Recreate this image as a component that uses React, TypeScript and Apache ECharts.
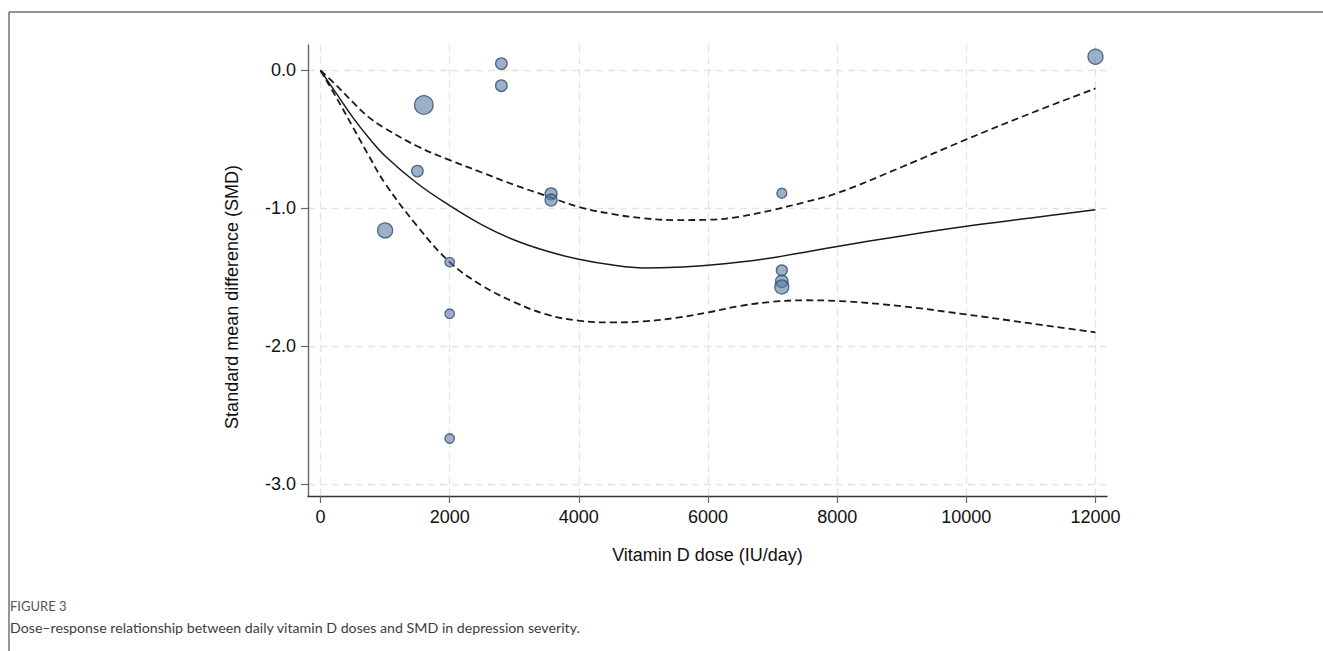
import React, { useEffect, useRef } from "react";
import * as echarts from "echarts";

// Study-level observations
const doses = [1000, 1500, 1600, 2000, 2000, 2000, 2800, 2800, 3570, 3570, 7143, 7143, 7143, 7143, 12000];
const smd = [-1.16, -0.73, -0.25, -1.39, -1.765, -2.67, 0.05, -0.11, -0.895, -0.94, -0.89, -1.45, -1.53, -1.57, 0.1];
const weights = [15, 11.5, 18.5, 9.5, 9.5, 9.5, 11.5, 11.5, 12, 12, 10, 11, 12.5, 14, 15];

// Fitted dose-response curve and its 95% confidence band
const curveDose = [0, 250, 500, 750, 1000, 1500, 2000, 2500, 3000, 3500, 4000, 4500, 5000, 5500, 6000, 6500, 7000, 7500, 8000, 9000, 10000, 11000, 12000];
const fitSmd = [0, -0.17, -0.34, -0.49, -0.62, -0.82, -0.98, -1.12, -1.23, -1.31, -1.37, -1.41, -1.432, -1.428, -1.413, -1.39, -1.358, -1.318, -1.277, -1.2, -1.13, -1.07, -1.01];
const upperSmd = [0, -0.11, -0.23, -0.34, -0.42, -0.55, -0.65, -0.74, -0.83, -0.91, -0.99, -1.04, -1.072, -1.085, -1.083, -1.06, -1.012, -0.955, -0.89, -0.7, -0.5, -0.31, -0.13];
const lowerSmd = [0, -0.2, -0.41, -0.62, -0.82, -1.13, -1.39, -1.56, -1.68, -1.77, -1.815, -1.828, -1.82, -1.795, -1.755, -1.708, -1.678, -1.667, -1.672, -1.71, -1.77, -1.835, -1.9];

const xTicks = [0, 2000, 4000, 6000, 8000, 10000, 12000];
const yTicks = [-3, -2, -1, 0];

const xTitle = "Vitamin D dose (IU/day)";
const yTitle = "Standard mean difference (SMD)";
const figLabel = "FIGURE 3";
const caption = "Dose\u2013response relationship between daily vitamin D doses and SMD in depression severity.";

const FONT = "'Liberation Sans', Arial, Helvetica, sans-serif";

export default function App() {
  const ref = useRef<HTMLDivElement>(null);
  useEffect(() => {
    document.body.style.margin = "0";
    const chart = echarts.init(ref.current!, null, { renderer: "svg" });
    const pair = (xs: number[], ys: number[]) => xs.map((x, i) => [x, ys[i]]);
    const gridLine = { show: true, lineStyle: { color: "#e3e3e3", width: 1.3, type: [7, 5] as any } };
    chart.setOption({
      animation: false,
      backgroundColor: "#ffffff",
      grid: { left: 308, right: 216, top: 45, bottom: 155, containLabel: false },
      xAxis: {
        type: "value",
        min: -194,
        max: 12178,
        name: xTitle,
        nameLocation: "middle",
        nameGap: 50,
        nameTextStyle: { color: "#111", fontSize: 18, fontFamily: FONT },
        axisLine: { show: true, onZero: false, lineStyle: { color: "#333", width: 1.4 } },
        axisTick: { show: true, length: 7, customValues: xTicks, lineStyle: { color: "#666", width: 1.2 } },
        axisLabel: { customValues: xTicks, margin: 12, color: "#111", fontSize: 18, fontFamily: FONT, formatter: (v: number) => String(v) },
        splitLine: gridLine,
      },
      yAxis: {
        type: "value",
        min: -3.087,
        max: 0.185,
        axisLine: { show: true, onZero: false, lineStyle: { color: "#666", width: 1.4 } },
        axisTick: { show: true, length: 7, customValues: yTicks, lineStyle: { color: "#666", width: 1.2 } },
        axisLabel: { customValues: yTicks, margin: 12, color: "#111", fontSize: 18, fontFamily: FONT, formatter: (v: number) => v.toFixed(1) },
        splitLine: gridLine,
      },
      graphic: [
        { type: "line", shape: { x1: 9, y1: 12, x2: 1323, y2: 12 }, style: { stroke: "#6b7080", lineWidth: 1.5 } },
        { type: "line", shape: { x1: 9, y1: 12, x2: 9, y2: 651 }, style: { stroke: "#6b7080", lineWidth: 1.5 } },
        {
          type: "text", x: 231.5, y: 297, rotation: Math.PI / 2,
          style: { text: yTitle, fill: "#111", font: `18px ${FONT}`, align: "center", verticalAlign: "middle" },
        },
        {
          type: "text", x: 10, y: 606,
          style: { text: figLabel, fill: "#555", font: `13px Lato, 'Open Sans', sans-serif`, align: "left", verticalAlign: "middle" },
        },
        {
          type: "text", x: 10, y: 627,
          style: { text: caption, fill: "#3d3d3d", font: `14.2px Lato, 'Open Sans', sans-serif`, align: "left", verticalAlign: "middle" },
        },
      ],
      series: [
        {
          type: "line", data: pair(curveDose, upperSmd), smooth: 0.4, showSymbol: false, z: 2,
          lineStyle: { color: "#1a1a1a", width: 1.8, type: [7, 4] },
        },
        {
          type: "line", data: pair(curveDose, lowerSmd), smooth: 0.4, showSymbol: false, z: 2,
          lineStyle: { color: "#1a1a1a", width: 1.8, type: [7, 4] },
        },
        {
          type: "line", data: pair(curveDose, fitSmd), smooth: 0.4, showSymbol: false, z: 2,
          lineStyle: { color: "#1a1a1a", width: 1.5, type: "solid" },
        },
        {
          type: "scatter", z: 5,
          data: doses.map((d, i) => [d, smd[i], weights[i]]),
          symbolSize: (v: number[]) => v[2],
          itemStyle: { color: "rgba(84,118,162,0.72)", borderColor: "#2d4b6c", borderWidth: 1.3 },
        },
      ],
    });
    return () => chart.dispose();
  }, []);
  return <div ref={ref} style={{ width: 1323, height: 651, position: "absolute", left: 0, top: 0 }} />;
}
